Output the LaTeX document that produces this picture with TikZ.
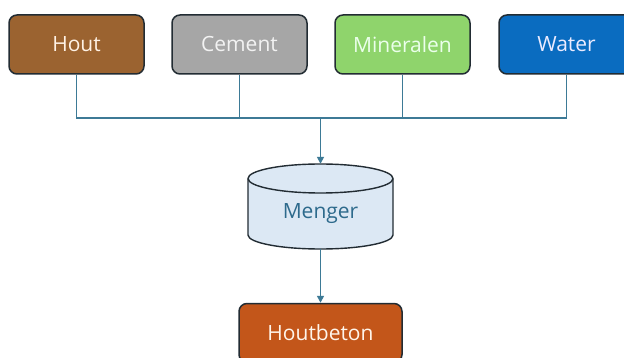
\documentclass[tikz,border=0pt]{standalone}
\usepackage{fontspec}
\setmainfont{Open Sans}
\usetikzlibrary{arrows.meta}
\definecolor{linec}{HTML}{3D7A96}
\definecolor{edgec}{HTML}{222C33}
\definecolor{houtc}{HTML}{9B6330}
\definecolor{cementc}{HTML}{A6A6A6}
\definecolor{minc}{HTML}{8FD46C}
\definecolor{waterc}{HTML}{0A6CC0}
\definecolor{betonc}{HTML}{C3561A}
\definecolor{mengerc}{HTML}{DCE8F4}
\definecolor{mengertext}{HTML}{2D6A8C}
\tikzset{
  txt/.style={font=\fontsize{21}{25}\selectfont},
  srcbox/.style={draw=edgec, line width=1.5pt, rounded corners=8pt, minimum width=135pt, minimum height=59pt, inner sep=0pt, txt},
  conn/.style={draw=linec, line width=1.6pt},
  arr/.style={conn, -{Triangle[length=7pt,width=7pt]}}
}
\begin{document}
\begin{tikzpicture}[x=1pt,y=-1pt]
\useasboundingbox (0,0) rectangle (624,358);
\fill[white] (0,0) rectangle (624,358);
\node[srcbox, fill=houtc, text=white!90!orange] (hout) at (76.5,44.5) {Hout};
\node[srcbox, fill=cementc, text=white!95!black] (cement) at (239.5,44.5) {Cement};
\node[srcbox, fill=minc, text=white!92!green] (min) at (402.5,44.5) {Mineralen};
\node[srcbox, fill=waterc, text=white!92!blue] (water) at (566.5,44.5) {Water};
\node[srcbox, fill=betonc, text=white!92!orange, minimum width=163pt] (beton) at (320.5,333) {Houtbeton};
% cylinder
\filldraw[fill=mengerc, draw=edgec, line width=1.4pt]
  (248,178.5) -- (248,235) arc[start angle=180, end angle=0, x radius=72.5, y radius=14] -- (393,178.5)
  arc[start angle=0, end angle=-180, x radius=72.5, y radius=14.5] -- cycle;
\draw[edgec, line width=1.4pt] (248,178.5) arc[start angle=180, end angle=0, x radius=72.5, y radius=14.5];
\node[inner sep=0pt, minimum width=145pt, minimum height=85pt] (menger) at (320.5,206.5) {};
\node[inner sep=0pt, txt, text=mengertext] (mlabel) at (320.5,214) {Menger};
\coordinate (join) at (320.5,118);
\draw[conn] (hout.south) |- (join);
\draw[conn] (cement.south) |- (join);
\draw[conn] (min.south) |- (join);
\draw[conn] (water.south) |- (join);
\draw[arr] (join) -- (menger.north);
\draw[arr] (menger.south) -- (beton.north);
\end{tikzpicture}
\end{document}
